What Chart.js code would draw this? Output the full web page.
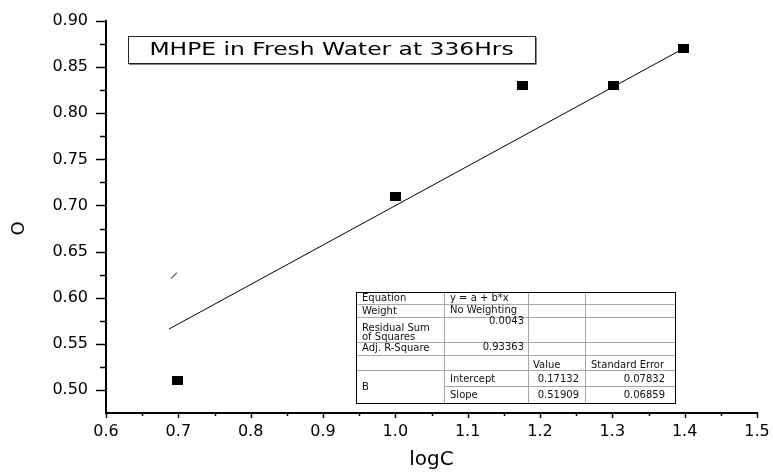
<!DOCTYPE html>
<html><head><meta charset="utf-8">
<script src="https://cdn.jsdelivr.net/npm/chart.js@4.4.1/dist/chart.umd.min.js"></script>
<style>html,body{margin:0;padding:0;background:#fff;}#wrap{width:773px;height:474px;position:relative;}</style>
</head><body><div id="wrap"><canvas id="c"></canvas></div>
<script>
// ---- data ----
const logC = [0.699, 1.000, 1.176, 1.301, 1.398];
const thetaValues = [0.51, 0.71, 0.83, 0.83, 0.87];
const fitLineX = [0.687, 1.398];
const fitLineY = [0.566, 0.870];
const strayMarkX = [0.690, 0.698];
const strayMarkY = [0.621, 0.627];
const xTickLabels = ['0.6','0.7','0.8','0.9','1.0','1.1','1.2','1.3','1.4','1.5'];
const yTickLabels = ['0.50','0.55','0.60','0.65','0.70','0.75','0.80','0.85','0.90'];
const chartTitle = 'MHPE in Fresh Water at 336Hrs';
const xAxisTitle = 'logC';
const yAxisTitle = 'O';
const tableCol0 = ['Equation', 'Weight', 'Residual Sum', 'of Squares', 'Adj. R-Square', 'B'];
const tableCol1 = ['y = a + b*x', 'No Weighting', '0.0043', '0.93363', 'Intercept', 'Slope'];
const tableCol2 = ['Value', '0.17132', '0.51909'];
const tableCol3 = ['Standard Error', '0.07832', '0.06859'];

const FONT = '"DejaVu Sans", sans-serif';

// marker: black filled rectangle
const marker = document.createElement('canvas');
marker.width = 11; marker.height = 9;
(function(){const m = marker.getContext('2d'); m.fillStyle = '#000'; m.fillRect(0,0,11,9);})();

const toXY = (xs, ys) => xs.map((x, i) => ({x: x, y: ys[i]}));

const decorPlugin = {
  id: 'decor',
  afterDraw(chart) {
    const ctx = chart.ctx, ca = chart.chartArea;
    const xs = chart.scales.x, ys = chart.scales.y;
    ctx.save();
    // tick marks
    ctx.strokeStyle = '#000';
    ctx.lineWidth = 1.5;
    xs.ticks.forEach(t => {
      const px = Math.round(xs.getPixelForValue(t.value)) + 0.5;
      const major = t.label !== '';
      ctx.beginPath(); ctx.moveTo(px, ca.bottom); ctx.lineTo(px, ca.bottom + (major ? 5 : 3)); ctx.stroke();
    });
    ys.ticks.forEach(t => {
      if (Math.abs(t.value - ys.min) < 1e-6) return;
      const py = Math.round(ys.getPixelForValue(t.value)) + 0.5;
      const major = t.label !== '';
      ctx.beginPath(); ctx.moveTo(ca.left - (major ? 10 : 6), py); ctx.lineTo(ca.left, py); ctx.stroke();
    });

    // title box
    const bx = ca.left + 22, by = ca.top + 15, bw = 407, bh = 27;
    ctx.fillStyle = '#fff';
    ctx.fillRect(bx, by, bw, bh);
    ctx.strokeStyle = '#888';
    ctx.lineWidth = 1;
    ctx.beginPath(); ctx.moveTo(bx + 1, by + bh + 1.5); ctx.lineTo(bx + bw + 1.5, by + bh + 1.5); ctx.lineTo(bx + bw + 1.5, by + 1); ctx.stroke();
    ctx.strokeStyle = '#222';
    ctx.strokeRect(bx + 0.5, by + 0.5, bw, bh);
    ctx.save();
    ctx.translate(bx + bw / 2, by + bh / 2 + 1);
    ctx.scale(1.3, 1);
    ctx.fillStyle = '#000';
    ctx.font = '18px ' + FONT;
    ctx.textAlign = 'center'; ctx.textBaseline = 'middle';
    ctx.fillText(chartTitle, 0, 0);
    ctx.restore();

    // statistics table
    const tx = ca.left + 250, ty = ca.top + 271;
    const cols = [0, 88, 172, 229, 319].map(v => tx + v);
    const rows = [0, 12, 25, 50, 63, 78, 94, 111].map(v => ty + v);
    ctx.fillStyle = '#fff';
    ctx.fillRect(cols[0], rows[0], cols[4] - cols[0], rows[7] - rows[0]);
    ctx.strokeStyle = '#a8a8a8';
    ctx.lineWidth = 1;
    for (let i = 1; i <= 3; i++) {
      ctx.beginPath(); ctx.moveTo(cols[i] + 0.5, rows[0]); ctx.lineTo(cols[i] + 0.5, rows[7]); ctx.stroke();
    }
    for (let j = 1; j <= 6; j++) {
      const startX = j === 6 ? cols[1] : cols[0];
      ctx.beginPath(); ctx.moveTo(startX, rows[j] + 0.5); ctx.lineTo(cols[4], rows[j] + 0.5); ctx.stroke();
    }
    ctx.strokeStyle = '#000';
    ctx.strokeRect(cols[0] + 0.5, rows[0] + 0.5, cols[4] - cols[0], rows[7] - rows[0]);

    ctx.fillStyle = '#111';
    ctx.font = '10px ' + FONT;
    ctx.textBaseline = 'middle';
    const L = (s, x, y) => { ctx.textAlign = 'left'; ctx.fillText(s, x, y); };
    const R = (s, x, y) => { ctx.textAlign = 'right'; ctx.fillText(s, x, y); };
    const c0y = [6.5, 19, 36.5, 45, 56.5, 95.5];
    tableCol0.forEach((s, i) => L(s, cols[0] + 6, ty + c0y[i]));
    L(tableCol1[0], cols[1] + 6, ty + 6);
    L(tableCol1[1], cols[1] + 6, ty + 18.5);
    R(tableCol1[2], cols[2] - 4, ty + 29.5);
    R(tableCol1[3], cols[2] - 4, ty + 55.5);
    L(tableCol1[4], cols[1] + 6, ty + 87.5);
    L(tableCol1[5], cols[1] + 6, ty + 103);
    L(tableCol2[0], cols[2] + 5, ty + 73.5);
    R(tableCol2[1], cols[3] - 6, ty + 87.5);
    R(tableCol2[2], cols[3] - 6, ty + 103);
    L(tableCol3[0], cols[3] + 6, ty + 73.5);
    R(tableCol3[1], cols[4] - 10, ty + 87.5);
    R(tableCol3[2], cols[4] - 10, ty + 103);
    ctx.restore();
  }
};

new Chart(document.getElementById('c'), {
  type: 'scatter',
  data: {
    datasets: [
      {
        label: 'θ',
        data: toXY(logC, thetaValues),
        pointStyle: marker,
        pointRadius: 5,
        showLine: false,
        backgroundColor: '#000',
        borderColor: '#000'
      },
      {
        label: 'Linear Fit',
        data: toXY(fitLineX, fitLineY),
        showLine: true,
        pointRadius: 0,
        borderColor: '#000',
        borderWidth: 1,
        fill: false
      },
      {
        label: 'mark',
        data: toXY(strayMarkX, strayMarkY),
        showLine: true,
        pointRadius: 0,
        borderColor: '#000',
        borderWidth: 1,
        fill: false
      }
    ]
  },
  options: {
    responsive: true,
    maintainAspectRatio: false,
    animation: false,
    layout: { padding: { left: 0, right: 16, top: 21, bottom: 0 } },
    plugins: { legend: { display: false }, tooltip: { enabled: false }, title: { display: false } },
    scales: {
      x: {
        type: 'linear',
        min: 0.6, max: 1.5,
        afterFit: s => { s.height = 61; },
        grid: { display: true, drawOnChartArea: false, drawTicks: true, tickLength: 9, tickColor: 'rgba(0,0,0,0)', color: 'rgba(0,0,0,0)' },
        border: { display: true, color: '#000', width: 2 },
        ticks: {
          stepSize: 0.05, autoSkip: false, maxRotation: 0, padding: 0,
          color: '#000', font: { family: FONT, size: 16 },
          callback: v => { const k = Math.round(v * 100); return k % 10 === 0 ? xTickLabels[(k - 60) / 10] : ''; }
        },
        title: { display: true, text: xAxisTitle, color: '#000', font: { family: FONT, size: 20 }, padding: { top: 0, bottom: 2 } }
      },
      y: {
        type: 'linear',
        min: 0.475, max: 0.90,
        afterFit: s => { s.width = 106; },
        grid: { display: true, drawOnChartArea: false, drawTicks: true, tickLength: 18, tickColor: 'rgba(0,0,0,0)', color: 'rgba(0,0,0,0)' },
        border: { display: true, color: '#000', width: 2 },
        ticks: {
          stepSize: 0.025, autoSkip: false, padding: 0,
          color: '#000', font: { family: FONT, size: 16 },
          callback: v => { const k = Math.round(v * 1000); return k % 50 === 0 ? yTickLabels[(k - 500) / 50] : ''; }
        },
        title: { display: true, text: yAxisTitle + '    ', color: '#000', font: { family: FONT, size: 18 }, padding: { top: 9, bottom: 0 } }
      }
    }
  },
  plugins: [decorPlugin]
});
</script></body></html>
